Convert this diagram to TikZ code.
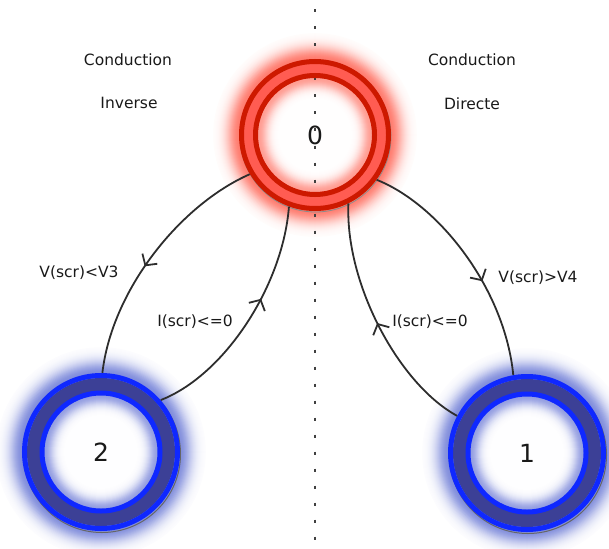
\documentclass[tikz,border=0pt]{standalone}
\usepackage{fontspec}
\setmainfont{DejaVu Sans}
\usetikzlibrary{arrows.meta,decorations.markings}

\definecolor{ringred}{RGB}{205,25,0}
\definecolor{bandred}{RGB}{255,92,82}
\definecolor{glowred}{RGB}{255,125,112}
\definecolor{ringblue}{RGB}{15,40,255}
\definecolor{bandblue}{RGB}{60,64,150}
\definecolor{glowblue}{RGB}{130,142,220}
\definecolor{edgegray}{RGB}{45,45,45}
\definecolor{textcol}{RGB}{25,25,25}

\begin{document}
\begin{tikzpicture}[x=1pt,y=-1pt,
  trans/.style={draw=edgegray, line width=1.8pt, postaction={decorate},
    decoration={markings, mark=at position #1 with {\arrow[line width=1.8pt]{Straight Barb[length=8pt,width=18pt]}}}},
  trans/.default=0.55,
  stnode/.style={circle, inner sep=0pt, text=textcol, font=\fontsize{25}{29}\selectfont},
  lbl/.style={text=textcol, font=\fontsize{15.5}{18}\selectfont, inner sep=1pt},
  dotline/.style={draw=black!75, line width=1.8pt, dash pattern=on 3pt off 14pt}]
\useasboundingbox (0,0) rectangle (609,548);

\coordinate (c0) at (315,135);
\coordinate (c2) at (101,452);
\coordinate (c1) at (527,453);

% glows (outer then inner, drawn as stacked discs)
\foreach \i in {26,25,...,0}{
  \pgfmathsetmacro\p{100*exp(-(\i/13)^2)}
  \fill[glowred!\p!white] (c0) circle ({76+\i});
  \pgfmathsetmacro\q{100*exp(-(\i/13)^2)}
  \fill[glowblue!\q!white] (c2) circle ({79+\i});
  \fill[glowblue!\q!white] (c1) circle ({79+\i});
}
\foreach \i in {0,1,...,22}{
  \pgfmathsetmacro\p{75*exp(-(\i/9.5)^2)}
  \fill[glowred!\p!white] (c0) circle ({57-\i});
  \pgfmathsetmacro\q{85*exp(-(\i/9.5)^2)}
  \fill[glowblue!\q!white] (c2) circle ({57-\i});
  \fill[glowblue!\q!white] (c1) circle ({57-\i});
}

% dotted separator
\coordinate (dtop) at (315,9.5);
\coordinate (dbot) at (315,548);
\draw[dotline] (dtop) -- (dbot);

% ring of state 0
\draw[black!45, line width=0.8pt] ([shift={(0.5,1.5)}]c0) circle (75.5pt);
\draw[bandred, line width=10pt] (c0) circle (66.5pt);
\draw[ringred, line width=5pt] (c0) circle (73.5pt);
\draw[ringred, line width=5pt] (c0) circle (59.5pt);

% rings of states 1 and 2
\foreach \c in {c1,c2}{
  \draw[black!60, line width=1pt] ([shift={(1,2)}]\c) circle (78.5pt);
  \draw[bandblue, line width=14pt] (\c) circle (67pt);
  \draw[ringblue, line width=5pt] (\c) circle (76.5pt);
  \draw[ringblue, line width=5pt] (\c) circle (59pt);
}

\node[stnode, minimum size=152pt] (n0) at (c0) {0};
\node[stnode, minimum size=158pt] (n2) at (c2) {2};
\node[stnode, minimum size=158pt] (n1) at (c1) {1};

% labels
\node[lbl] (tl1) at (128,60) {Conduction};
\node[lbl] (tl2) at (129,103) {Inverse};
\node[lbl] (tr1) at (472,60) {Conduction};
\node[lbl] (tr2) at (472,104) {Directe};
\node[lbl] (la) at (79,273) {V(scr)<V3};
\node[lbl] (lb) at (195,322) {I(scr)<=0};
\node[lbl] (lc) at (538,278) {V(scr)>V4};
\node[lbl] (ld) at (430,322) {I(scr)<=0};

% transitions
\draw[trans=0.55] (n0.211) .. controls (180,205) and (112,290) .. (n2.89);
\draw[trans=0.6] (n2.41) .. controls (225,375) and (283,285) .. (n0.250);
\draw[trans=0.6] (n0.324) .. controls (440,205) and (505,290) .. (n1.100);
\draw[trans=0.5] (n1.152) .. controls (400,385) and (345,285) .. (n0.296);
\end{tikzpicture}
\end{document}
